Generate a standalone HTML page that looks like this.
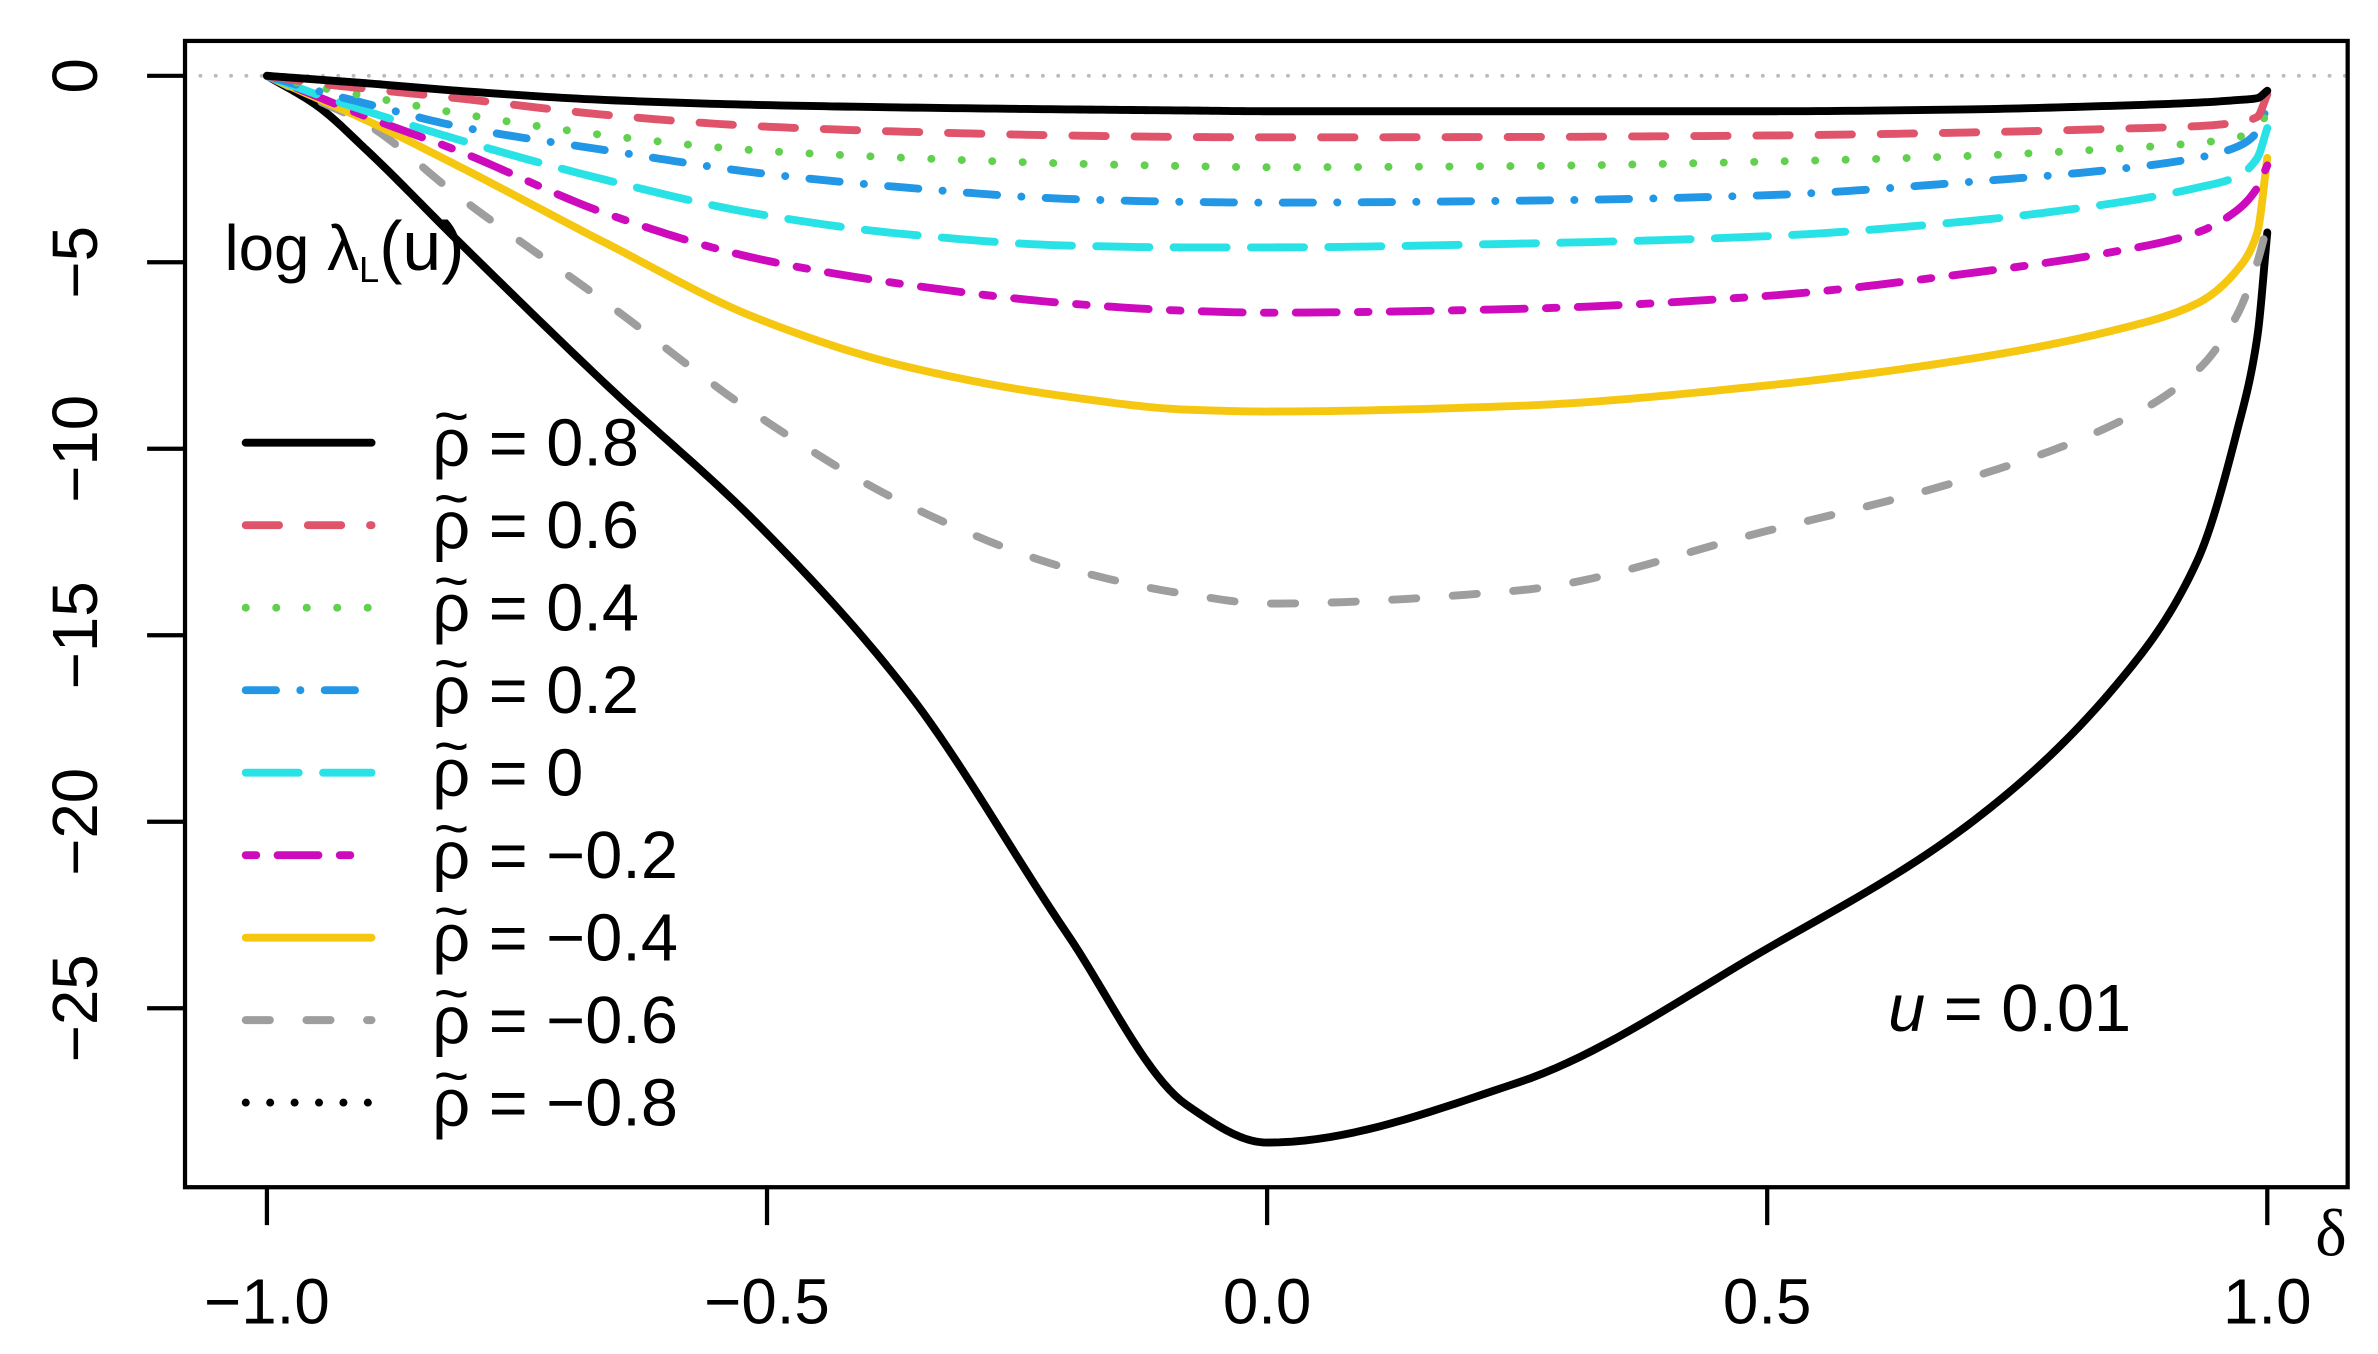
<!DOCTYPE html>
<html><head><meta charset="utf-8"><style>
html,body{margin:0;padding:0;background:#fff;}
svg{display:block;font-family:"Liberation Sans",sans-serif;}
</style></head><body>
<svg id="chart" width="2378" height="1354" viewBox="0 0 1568 893" preserveAspectRatio="none" xmlns="http://www.w3.org/2000/svg">
<rect x="0" y="0" width="1568" height="893" fill="#fff"/>
<g id="plot"></g>
</svg>
<script>
const deltas = [-1,-0.95,-0.9,-0.81,-0.66,-0.51,-0.36,-0.2,-0.08,0,0.25,0.5,0.7,0.85,0.93,0.97,0.99,1];
const r08  = [0,-0.1,-0.2,-0.4,-0.65,-0.78,-0.85,-0.9,-0.93,-0.95,-0.95,-0.95,-0.9,-0.8,-0.72,-0.65,-0.6,-0.4];
const r06  = [0,-0.2,-0.35,-0.6,-1.05,-1.35,-1.5,-1.6,-1.64,-1.65,-1.64,-1.6,-1.52,-1.42,-1.35,-1.25,-1.1,-0.5];
const r04  = [0,-0.3,-0.55,-1,-1.6,-2,-2.2,-2.35,-2.42,-2.45,-2.42,-2.3,-2.15,-1.95,-1.8,-1.65,-1.4,-1.0];
const r02  = [0,-0.4,-0.75,-1.35,-2,-2.6,-3.0,-3.3,-3.38,-3.4,-3.35,-3.2,-2.85,-2.5,-2.2,-1.9,-1.5,-0.8];
const r00  = [0,-0.5,-0.95,-1.7,-2.8,-3.7,-4.25,-4.55,-4.6,-4.6,-4.5,-4.3,-3.9,-3.4,-3.0,-2.7,-2.2,-1.4];
const rm02 = [0,-0.55,-1.1,-2,-3.7,-4.9,-5.6,-6.1,-6.3,-6.35,-6.25,-5.9,-5.3,-4.7,-4.2,-3.6,-3.0,-2.4];
const rm04 = [0,-0.6,-1.2,-2.4,-4.5,-6.5,-7.8,-8.6,-8.95,-9.0,-8.85,-8.3,-7.6,-6.8,-6.1,-5.2,-4.2,-2.2];
const rm06 = [0,-0.65,-1.3,-3.2,-6.1,-9.1,-11.5,-13.2,-13.9,-14.15,-13.8,-12.2,-10.8,-9.3,-7.9,-6.4,-5.0,-4.0];
const rm08 = [0,-0.8,-2.0,-4.4,-8.3,-12.0,-16.5,-23.0,-27.6,-28.6,-27.0,-23.4,-20.1,-16.3,-13,-9.5,-7,-4.2];
const legendLabels = ["0.8","0.6","0.4","0.2","0","\u22120.2","\u22120.4","\u22120.6","\u22120.8"];
const xTicks = [-1,-0.5,0,0.5,1];
const xTickLabels = ["\u22121.0","\u22120.5","0.0","0.5","1.0"];
const yTicks = [0,-5,-10,-15,-20,-25];
const yTickLabels = ["0","\u22125","\u221210","\u221215","\u221220","\u221225"];

const NS="http://www.w3.org/2000/svg";
const g=document.getElementById('plot');
const X=d=>835.5+659.5*d;
const Y=v=>50-24.6*v;
function el(t,a,parent){const e=document.createElementNS(NS,t);for(const k in a)e.setAttribute(k,a[k]);(parent||g).appendChild(e);return e;}

let z=el('line',{x1:122,x2:1548,y1:Y(0),y2:Y(0),stroke:'#bbb','stroke-width':2.5,'stroke-dasharray':'0.1 10','stroke-linecap':'round'});



// monotone cubic (Fritsch-Carlson) interpolation, sampled densely
function pathFrom(vals){
  const n=deltas.length, h=[], s=[], m=new Array(n);
  for(let i=0;i<n-1;i++){h[i]=deltas[i+1]-deltas[i];s[i]=(vals[i+1]-vals[i])/h[i];}
  m[0]=s[0];m[n-1]=s[n-2];
  for(let i=1;i<n-1;i++){
    if(s[i-1]*s[i]<=0)m[i]=0;
    else{const w1=2*h[i]+h[i-1],w2=h[i]+2*h[i-1];m[i]=(w1+w2)/(w1/s[i-1]+w2/s[i]);}
  }
  let out='M'+X(deltas[0])+','+Y(vals[0]);
  for(let i=0;i<n-1;i++){
    const steps=20;
    for(let k=1;k<=steps;k++){
      const t=k/steps,t2=t*t,t3=t2*t;
      const v=(2*t3-3*t2+1)*vals[i]+(t3-2*t2+t)*h[i]*m[i]+(-2*t3+3*t2)*vals[i+1]+(t3-t2)*h[i]*m[i+1];
      out+=' L'+X(deltas[i]+t*h[i]).toFixed(2)+','+Y(v).toFixed(2);
    }
  }
  return out;
}
const series=[
 {v:r08,c:'#000',d:'',name:'series-rho-0.8'},
 {v:r06,c:'#DF536B',d:'22 19',name:'series-rho-0.6'},
 {v:r04,c:'#61D04F',d:'0.1 20',name:'series-rho-0.4'},
 {v:r02,c:'#2297E6',d:'20 16 0.1 16',name:'series-rho-0.2'},
 {v:r00,c:'#28E2E5',d:'35 16',name:'series-rho-0'},
 {v:rm02,c:'#CD0BBC',d:'7 14 27 14',name:'series-rho-minus-0.2'},
 {v:rm04,c:'#F5C710',d:'',name:'series-rho-minus-0.4'},
 {v:rm06,c:'#9E9E9E',d:'16 24',name:'series-rho-minus-0.6'},
 {v:rm08,c:'#000',d:'',name:'series-rho-minus-0.8'}
];
const legDash=['', '22 19','0.1 20','20 16 0.1 16','35 16','7 14 27 14','','16 24','0.1 16'];
series.slice().reverse().forEach(s=>{
  const p=el('path',{d:pathFrom(s.v),fill:'none',stroke:s.c,'stroke-width':5.2,'stroke-linecap':'round','stroke-linejoin':'round'});
  if(s.d)p.setAttribute('stroke-dasharray',s.d);
  
  
});

let box=el('rect',{x:122,y:27,width:1426,height:756,fill:'none',stroke:'#000','stroke-width':2.8});



xTicks.forEach((t,i)=>{
  let l=el('line',{x1:X(t),x2:X(t),y1:783,y2:808,stroke:'#000','stroke-width':2.8});
  
  
  let tx=el('text',{x:X(t),y:873,'font-size':42,'text-anchor':'middle',fill:'#000'});
  tx.textContent=xTickLabels[i];
  
  
});
yTicks.forEach((t,i)=>{
  let l=el('line',{x1:97,x2:122,y1:Y(t),y2:Y(t),stroke:'#000','stroke-width':2.8});
  
  
  let tx=el('text',{x:0,y:0,'font-size':42,'text-anchor':'middle',fill:'#000',transform:'translate(64,'+Y(t)+') rotate(-90)'});
  tx.textContent=yTickLabels[i];
  
  
});
let dl=el('text',{x:1537,y:828,'font-size':44,'text-anchor':'middle',fill:'#000','font-family':'Liberation Serif, serif'});
dl.textContent='\u03b4';



let yl=el('text',{x:148,y:178,'font-size':42,fill:'#000'});
yl.innerHTML='log \u03bb<tspan font-size="24" dy="8">L</tspan><tspan dy="-8" font-size="46">(u)</tspan>';



let ul=el('text',{x:1245,y:680,'font-size':44,fill:'#000'});
ul.innerHTML='<tspan font-style="italic">u</tspan> = 0.01';



series.forEach((s,i)=>{
  const y=292+54.4*i;
  let l=el('line',{x1:162,x2:245,y1:y,y2:y,stroke:s.c,'stroke-width':5.2,'stroke-linecap':'round'});
  if(legDash[i])l.setAttribute('stroke-dasharray',legDash[i]);
  
  
  let t=el('text',{x:285,y:y+15,'font-size':44,fill:'#000'});
  t.textContent='\u03c1 = '+legendLabels[i];
  
  
  let td=el('text',{x:286,y:y-4,'font-size':40,fill:'#000'});
  td.textContent='~';
  
  
});
</script>
</body></html>
